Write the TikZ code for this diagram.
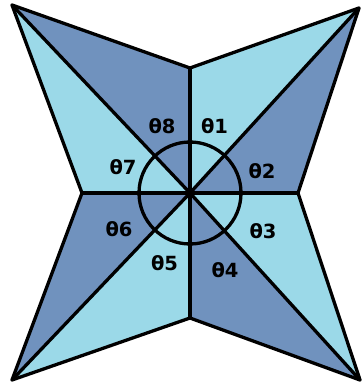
\documentclass[tikz,border=0pt]{standalone}
\usepackage{fontspec}
\newfontfamily\lblfont{DejaVu Sans}
\definecolor{darkb}{RGB}{112,146,190}
\definecolor{lightb}{RGB}{155,217,232}
\tikzset{
  edge/.style={line width=3.3pt, line join=round, line cap=round},
  lbl/.style={font=\lblfont\bfseries\fontsize{19.5}{20}\selectfont, inner sep=0pt}
}
\begin{document}
\begin{tikzpicture}[x=1pt,y=-1pt]
\useasboundingbox (0,0) rectangle (363,387);
\coordinate (C) at (190,193);
\coordinate (TL) at (12,5);
\coordinate (TR) at (359,8);
\coordinate (BL) at (12,380);
\coordinate (BR) at (360,380);
\coordinate (T) at (190,68);
\coordinate (B) at (190,318);
\coordinate (L) at (82,193);
\coordinate (R) at (298,193);
% fills
\fill[darkb] (C) -- (T) -- (TL) -- cycle;
\fill[lightb] (C) -- (T) -- (TR) -- cycle;
\fill[darkb] (C) -- (TR) -- (R) -- cycle;
\fill[lightb] (C) -- (R) -- (BR) -- cycle;
\fill[darkb] (C) -- (BR) -- (B) -- cycle;
\fill[lightb] (C) -- (B) -- (BL) -- cycle;
\fill[darkb] (C) -- (BL) -- (L) -- cycle;
\fill[lightb] (C) -- (L) -- (TL) -- cycle;
% outline
\draw[edge] (TL) -- (T) -- (TR) -- (R) -- (BR) -- (B) -- (BL) -- (L) -- cycle;
% spokes
\draw[edge] (C) -- (T);
\draw[edge] (C) -- (B);
\draw[edge] (C) -- (L);
\draw[edge] (C) -- (R);
\draw[edge] (C) -- (TL);
\draw[edge] (C) -- (TR);
\draw[edge] (C) -- (BL);
\draw[edge] (C) -- (BR);
% circle
\draw[edge] (C) circle[radius=51];
% labels
\node[lbl] (t1) at (214.5,126) {θ1};
\node[lbl] (t2) at (262,171) {θ2};
\node[lbl] (t3) at (263,231) {θ3};
\node[lbl] (t4) at (225,270) {θ4};
\node[lbl] (t5) at (164.5,263) {θ5};
\node[lbl] (t6) at (119,229) {θ6};
\node[lbl] (t7) at (123,167) {θ7};
\node[lbl] (t8) at (162,126) {θ8};
\end{tikzpicture}
\end{document}
